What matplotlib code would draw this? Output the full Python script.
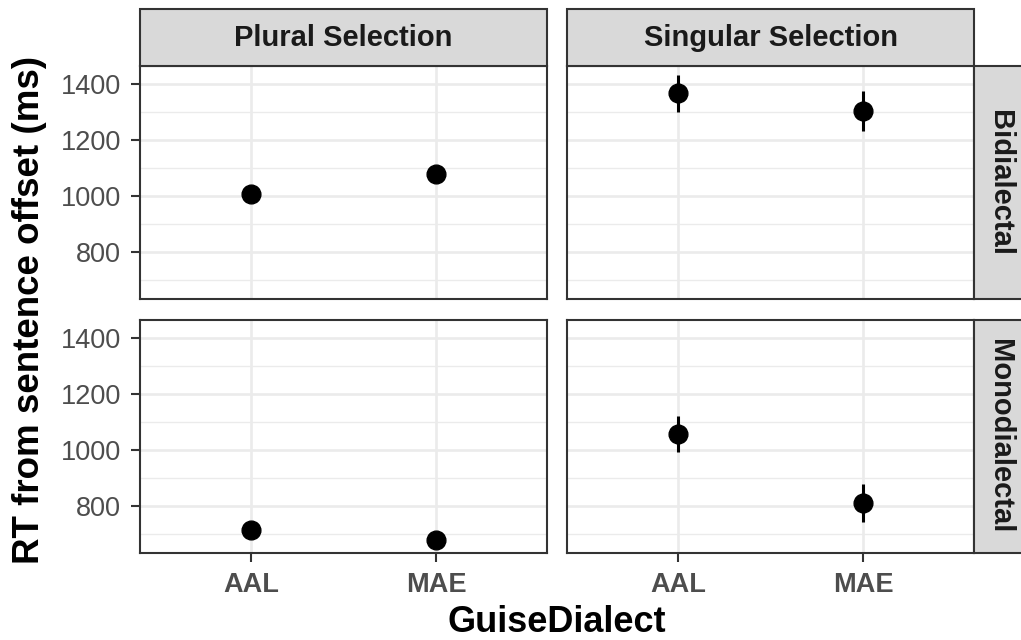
import matplotlib
matplotlib.use("Agg")
import matplotlib.pyplot as plt
from matplotlib.patches import Rectangle
from matplotlib.ticker import MultipleLocator

plt.rcParams['font.family'] = ['Liberation Sans', 'DejaVu Sans']

# Facet levels
selections = ["Plural Selection", "Singular Selection"]
groups = ["Bidialectal", "Monodialectal"]
dialects = ["AAL", "MAE"]

# Mean RT (ms) per panel, ordered AAL, MAE
rt_bi_plural = [1007, 1079]
rt_bi_singular = [1367, 1304]
rt_mono_plural = [715, 677]
rt_mono_singular = [1057, 809]

# Error-bar half-widths (ms)
err_bi_plural = [0, 0]
err_bi_singular = [66, 73]
err_mono_plural = [0, 0]
err_mono_singular = [64, 68]

y_ticks = [800, 1000, 1200, 1400]

panels = {
    (0, 0): (rt_bi_plural, err_bi_plural),
    (0, 1): (rt_bi_singular, err_bi_singular),
    (1, 0): (rt_mono_plural, err_mono_plural),
    (1, 1): (rt_mono_singular, err_mono_singular),
}

W, H = 1021, 640
fig = plt.figure(figsize=(W / 100, H / 100), dpi=100)

col_x = [(140, 547), (567, 974)]
row_y = [(66, 299), (320, 553)]
strip_top = 9
strip_right = 1040

border = "#333333"
grid_col = "#EBEBEB"
strip_fill = "#D9D9D9"

def fx(px):
    return px / W

def fy(py):
    return 1 - py / H

for (r, c), (vals, errs) in panels.items():
    x0, x1 = col_x[c]
    y0, y1 = row_y[r]
    ax = fig.add_axes([fx(x0), fy(y1), fx(x1 - x0), (y1 - y0) / H])
    ax.set_xlim(0.4, 2.6)
    ax.set_ylim(631, 1465)
    ax.set_xticks([1, 2])
    ax.yaxis.set_major_locator(MultipleLocator(200))
    ax.yaxis.set_minor_locator(MultipleLocator(100))
    ax.set_yticks(y_ticks)
    ax.grid(which="major", color=grid_col, lw=1.9)
    ax.grid(which="minor", axis="y", color=grid_col, lw=1.0)
    ax.set_axisbelow(True)
    for s in ax.spines.values():
        s.set_color(border)
        s.set_linewidth(1.5)
    xs = [1, 2]
    ax.errorbar(xs, vals, yerr=errs, fmt="none", ecolor="black", elinewidth=2.2, capsize=0, zorder=3)
    ax.plot(xs, vals, "o", color="black", ms=13.5, zorder=4)
    ax.tick_params(which="minor", length=0)
    ax.tick_params(which="major", length=6.5, width=1.5, color=border,
                   labelsize=19.5, labelcolor="#4D4D4D", pad=7)
    if c == 0:
        ax.set_yticklabels([str(v) for v in y_ticks])
    else:
        ax.tick_params(axis="y", length=0, labelleft=False)
    if r == 1:
        ax.set_xticklabels(dialects, fontweight="bold")
    else:
        ax.tick_params(axis="x", length=0, labelbottom=False)

# Column strips
for c, name in enumerate(selections):
    x0, x1 = col_x[c]
    fig.patches.append(Rectangle((fx(x0), fy(row_y[0][0])), fx(x1 - x0),
                                 (row_y[0][0] - strip_top) / H,
                                 transform=fig.transFigure, facecolor=strip_fill,
                                 edgecolor=border, lw=1.5, zorder=1))
    fig.text(fx((x0 + x1) / 2), fy((strip_top + row_y[0][0]) / 2), name,
             ha="center", va="center", fontsize=21, fontweight="bold", color="#1A1A1A")

# Row strips
for r, name in enumerate(groups):
    y0, y1 = row_y[r]
    fig.patches.append(Rectangle((fx(col_x[1][1]), fy(y1)), fx(strip_right - col_x[1][1]),
                                 (y1 - y0) / H, transform=fig.transFigure,
                                 facecolor=strip_fill, edgecolor=border, lw=1.5, zorder=1))
    fig.text(fx(col_x[1][1] + 26), fy((y0 + y1) / 2), name, rotation=-90,
             ha="center", va="center", fontsize=21, fontweight="bold", color="#1A1A1A")

fig.text(fx(30), fy((row_y[0][0] + row_y[1][1]) / 2), "RT from sentence offset (ms)",
         rotation=90, ha="center", va="center", fontsize=26.5, fontweight="bold", color="black")
fig.text(fx((col_x[0][0] + col_x[1][1]) / 2), fy(622), "GuiseDialect",
         ha="center", va="center", fontsize=26, fontweight="bold", color="black")

fig.savefig("out.png", dpi=100, facecolor="white")
